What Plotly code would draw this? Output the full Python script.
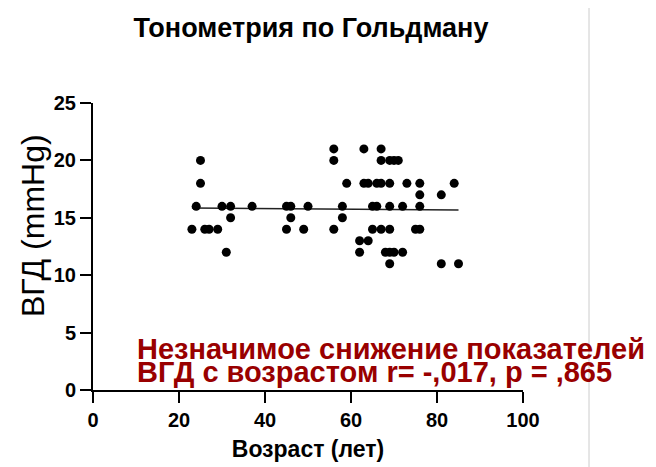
import plotly.graph_objects as go

# Data (age in years, IOP in mmHg)
age = [56, 63, 67,
       25, 56, 67, 69, 70, 71,
       25, 59, 63, 64, 66, 67, 69, 73, 76, 84,
       76, 81,
       24, 30, 32, 37, 45, 46, 50, 58, 65, 66, 69, 72, 76,
       32, 46, 58,
       23, 26, 27, 29, 45, 49, 56, 65, 67, 69, 75, 76,
       62, 64,
       31, 62, 68, 69, 70, 72,
       69, 81, 85]
iop = [21, 21, 21,
       20, 20, 20, 20, 20, 20,
       18, 18, 18, 18, 18, 18, 18, 18, 18, 18,
       17, 17,
       16, 16, 16, 16, 16, 16, 16, 16, 16, 16, 16, 16, 16,
       15, 15, 15,
       14, 14, 14, 14, 14, 14, 14, 14, 14, 14, 14, 14,
       13, 13,
       12, 12, 12, 12, 12, 12,
       11, 11, 11]

# Regression line as drawn in the reference (slightly negative slope)
fit_slope = -0.0027
fit_intercept = 15.905

x_ticks = [0, 20, 40, 60, 80, 100]
y_ticks = [0, 5, 10, 15, 20, 25]

title_text = "Тонометрия по Гольдману"
x_title = "Возраст (лет)"
y_title = "ВГД (mmHg)"
note_line1 = "Незначимое снижение показателей"
note_line2 = "ВГД с возрастом r= -,017, p = ,865"

fit_x = [min(age), max(age)]
fit_y = [fit_slope * v + fit_intercept for v in fit_x]

FONT = "Liberation Sans, Arial, sans-serif"
RED = "#990000"

OFF = 8  # page body margin
W, H = 656 - OFF, 467 - OFF
L, T = 93 - OFF, 103 - OFF
PW, PH = 430, 287
R = W - L - PW
B = H - T - PH


def px_x(p):
    return (p - OFF - L) / PW


def px_y(p):
    return (T + PH - (p - OFF)) / PH


fig = go.Figure()
fig.add_trace(go.Scatter(x=fit_x, y=fit_y, mode="lines",
                         line=dict(color="#222222", width=1.5),
                         hoverinfo="skip", showlegend=False))
fig.add_trace(go.Scatter(x=age, y=iop, mode="markers",
                         marker=dict(color="black", size=9),
                         cliponaxis=False, showlegend=False))

fig.update_layout(
    width=W, height=H,
    margin=dict(l=L, r=R, t=T, b=B, autoexpand=False),
    paper_bgcolor="white", plot_bgcolor="white",
    title=dict(text=title_text, x=(311 - OFF) / W, xref="container", xanchor="center",
               y=1 - (27.5 - OFF) / H, yref="container", yanchor="middle",
               font=dict(family=FONT, size=27, color="black", weight="bold")),
    font=dict(family=FONT),
)

fig.update_xaxes(range=[0, 100], tickvals=x_ticks, showgrid=False, zeroline=False,
                 automargin=False,
                 showline=True, linecolor="black", linewidth=2,
                 ticks="outside", ticklen=11, tickwidth=2, tickcolor="black",
                 tickfont=dict(family=FONT, size=20, color="black", weight="bold"),
                 title=dict(text=x_title, standoff=11,
                            font=dict(family=FONT, size=23, color="black", weight="bold")))
fig.update_yaxes(range=[0, 25], tickvals=y_ticks, showgrid=False, zeroline=False,
                 automargin=False,
                 showline=True, linecolor="black", linewidth=2,
                 ticks="outside", ticklen=11, tickwidth=2, tickcolor="black",
                 tickfont=dict(family=FONT, size=20, color="black", weight="bold"))

fig.add_annotation(text=y_title, xref="paper", yref="paper",
                   x=px_x(33), y=px_y(226), textangle=-90,
                   xanchor="center", yanchor="middle", showarrow=False,
                   font=dict(family=FONT, size=32, color="black"))

fig.add_annotation(text=note_line1, xref="paper", yref="paper",
                   x=px_x(135), y=px_y(349),
                   xanchor="left", yanchor="middle", showarrow=False,
                   font=dict(family=FONT, size=29, color=RED, weight="bold"))
fig.add_annotation(text=note_line2, xref="paper", yref="paper",
                   x=px_x(135), y=px_y(372),
                   xanchor="left", yanchor="middle", showarrow=False,
                   font=dict(family=FONT, size=29, color=RED, weight="bold"))

fig.add_shape(type="line", xref="paper", yref="paper",
              x0=px_x(589), x1=px_x(589), y0=px_y(H + 20), y1=px_y(0),
              line=dict(color="#cccccc", width=1))

fig.write_html("out.html")
